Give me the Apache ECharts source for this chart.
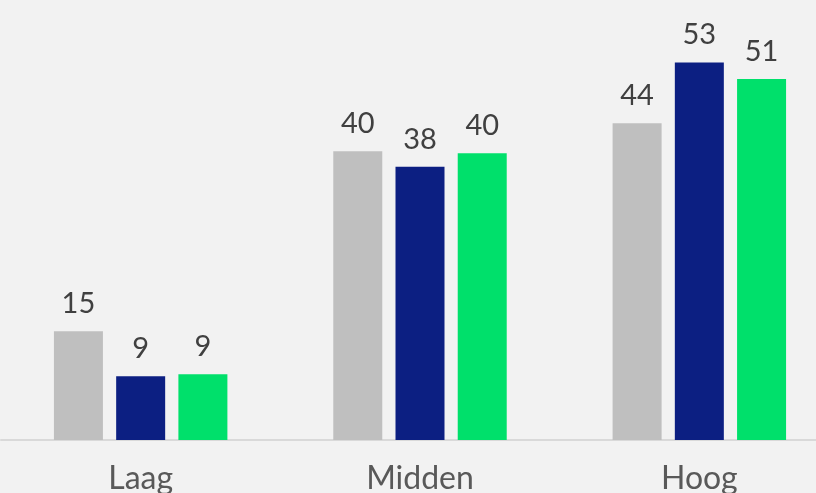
<!DOCTYPE html>
<html>
<head>
<meta charset="utf-8">
<script src="https://cdn.jsdelivr.net/npm/echarts@6/dist/echarts.min.js"></script>
<style>
  html, body { margin: 0; padding: 0; background: #f2f2f2; }
  #main { width: 816px; height: 493px; }
</style>
</head>
<body>
<div id="main"></div>
<script>
// categories and the three series
var categories = ["Laag", "Midden", "Hoog"];
var seriesGray = [15.2, 40.4, 44.3];
var seriesNavy = [8.9, 38.2, 52.8];
var seriesGreen = [9.2, 40.1, 50.5];

var colors = ["#bfbfbf", "#0c1f82", "#00e06b"];

function makeSeries(name, data, color) {
  return {
    name: name,
    type: "bar",
    data: data,
    barWidth: 49,
    barGap: "27%",
    itemStyle: { color: color },
    label: {
      show: true,
      position: "top",
      distance: 13,
      color: "#404040",
      fontFamily: "Lato",
      fontSize: 29,
      formatter: function (p) {
        return Math.round(p.value);
      }
    }
  };
}

var myChart = echarts.init(document.getElementById("main"));
var option = {
  backgroundColor: "#f2f2f2",
  animation: false,
  grid: {
    left: 1,
    right: -23,
    top: 11,
    bottom: 53,
    outerBoundsMode: "none"
  },
  xAxis: {
    type: "category",
    data: categories,
    axisTick: { show: false },
    axisLine: { lineStyle: { color: "#d9d9d9", width: 2 } },
    axisLabel: {
      color: "#595959",
      fontFamily: "Lato",
      fontSize: 32,
      margin: 23
    }
  },
  yAxis: {
    type: "value",
    min: 0,
    max: 60,
    show: false,
    splitLine: { show: false }
  },
  series: [
    makeSeries("a", seriesGray, colors[0]),
    makeSeries("b", seriesNavy, colors[1]),
    makeSeries("c", seriesGreen, colors[2])
  ]
};
myChart.setOption(option);
</script>
</body>
</html>
